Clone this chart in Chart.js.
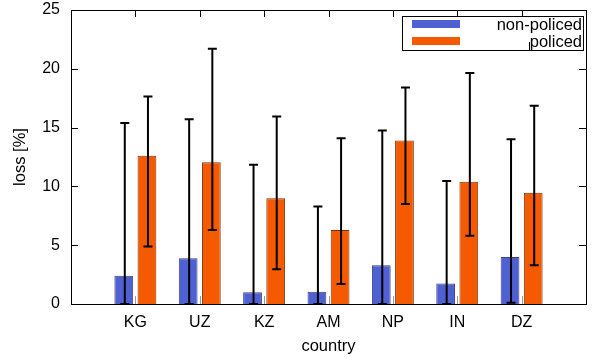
<!DOCTYPE html>
<html>
<head>
<meta charset="utf-8">
<script src="https://cdn.jsdelivr.net/npm/chart.js@4.4.0/dist/chart.umd.min.js"></script>
<style>
    html, body { margin: 0; padding: 0; background: #ffffff; }
    #wrap { width: 595px; height: 358px; position: relative; }
</style>
</head>
<body>
<div id="wrap"><canvas id="lossChart"></canvas></div>
<script>
// categories (blank slots at both ends keep the gnuplot x range 0..8)
const countries = ['', 'KG', 'UZ', 'KZ', 'AM', 'NP', 'IN', 'DZ', ''];

// mean loss [%]
const nonPoliced = [null, 2.4, 3.9, 1.0, 1.05, 3.3, 1.75, 4.0, null];
const policed = [null, 12.6, 12.05, 9.0, 6.3, 13.9, 10.4, 9.45, null];

// error bar ranges [%]
const nonPolicedLow = [null, 0, 0, 0, 0, 0, 0, 0.1, null];
const nonPolicedHigh = [null, 15.4, 15.7, 11.85, 8.3, 14.75, 10.45, 14.0, null];
const policedLow = [null, 4.9, 6.3, 2.95, 1.7, 8.5, 5.8, 3.3, null];
const policedHigh = [null, 17.65, 21.7, 15.95, 14.1, 18.4, 19.65, 16.85, null];

const yTicks = [0, 5, 10, 15, 20, 25];

const FONT = 'Liberation Sans, Arial, Helvetica, sans-serif';

document.addEventListener('DOMContentLoaded', function() {
    initializeChart();
});

// error bars with caps, drawn at each bar's x
const errorBarPlugin = {
    id: 'errorBars',
    afterDatasetsDraw(chart) {
        const ctx = chart.ctx;
        const y = chart.scales.y;
        const ranges = [[nonPolicedLow, nonPolicedHigh], [policedLow, policedHigh]];
        ctx.save();
        ctx.strokeStyle = '#000000';
        ctx.lineWidth = 2;
        ranges.forEach((r, di) => {
            const meta = chart.getDatasetMeta(di);
            meta.data.forEach((bar, i) => {
                if (r[0][i] === null) return;
                const x = bar.x + 1;
                const yLo = y.getPixelForValue(r[0][i]);
                const yHi = y.getPixelForValue(r[1][i]);
                ctx.beginPath();
                ctx.moveTo(x, yLo);
                ctx.lineTo(x, yHi);
                ctx.moveTo(x - 4.5, yLo);
                ctx.lineTo(x + 4.5, yLo);
                ctx.moveTo(x - 4.5, yHi);
                ctx.lineTo(x + 4.5, yHi);
                ctx.stroke();
            });
        });
        ctx.restore();
    }
};

// frame, inward ticks and the key box
const framePlugin = {
    id: 'frame',
    beforeDatasetsDraw(chart) {
        const ctx = chart.ctx;
        const a = chart.chartArea;
        const x = chart.scales.x;
        ctx.save();
        ctx.strokeStyle = '#999999';
        ctx.lineWidth = 1;
        for (let i = 1; i < countries.length - 1; i++) {
            const px = Math.round(x.getPixelForValue(i)) + 0.5;
            ctx.beginPath();
            ctx.moveTo(px, a.bottom);
            ctx.lineTo(px, a.bottom - 8);
            ctx.stroke();
        }
        ctx.restore();
    },
    afterDraw(chart) {
        const ctx = chart.ctx;
        const a = chart.chartArea;
        const x = chart.scales.x;
        const y = chart.scales.y;
        ctx.save();
        ctx.strokeStyle = '#000000';
        ctx.lineWidth = 1;
        ctx.strokeRect(Math.round(a.left) + 0.5, Math.round(a.top) + 0.5,
            Math.round(a.right - a.left), Math.round(a.bottom - a.top));

        ctx.beginPath();
        yTicks.forEach(v => {
            const py = Math.round(y.getPixelForValue(v)) + 0.5;
            ctx.moveTo(a.left, py);
            ctx.lineTo(a.left + 7, py);
            ctx.moveTo(a.right, py);
            ctx.lineTo(a.right - 7, py);
        });
        for (let i = 1; i < countries.length - 1; i++) {
            const px = Math.round(x.getPixelForValue(i)) + 0.5;
            ctx.moveTo(px, a.top);
            ctx.lineTo(px, a.top + 7);
        }
        ctx.stroke();

        // key
        ctx.strokeRect(402.5, 16.5, 181, 34);
        ctx.beginPath();
        ctx.moveTo(529.5, 42);
        ctx.lineTo(529.5, 50.5);
        ctx.stroke();
        chart.data.datasets.forEach((ds, i) => {
            const cy = 24 + i * 17;
            ctx.fillStyle = ds.backgroundColor;
            ctx.fillRect(412, cy - 4, 48, 8);
            ctx.fillStyle = '#000000';
            ctx.font = '16.5px ' + FONT;
            ctx.textAlign = 'right';
            ctx.textBaseline = 'middle';
            ctx.fillText(ds.label, 582, cy + 1);
        });
        ctx.restore();
    }
};

function initializeChart() {
    const ctx = document.getElementById('lossChart').getContext('2d');
    window.lossChart = new Chart(ctx, {
        type: 'bar',
        data: {
            labels: countries,
            datasets: [{
                label: 'non-policed',
                data: nonPoliced,
                backgroundColor: '#4f60d3',
                borderColor: '#3a4080',
                borderWidth: 1,
                categoryPercentage: 0.72,
                barPercentage: 0.81
            }, {
                label: 'policed',
                data: policed,
                backgroundColor: '#f55a00',
                borderColor: '#7a3510',
                borderWidth: 1,
                categoryPercentage: 0.72,
                barPercentage: 0.81
            }]
        },
        options: {
            responsive: true,
            maintainAspectRatio: false,
            animation: false,
            layout: {
                padding: { left: 0, right: 3, top: 10, bottom: 0 }
            },
            plugins: {
                legend: { display: false },
                tooltip: { enabled: false }
            },
            scales: {
                x: {
                    offset: false,
                    grid: { display: false, drawTicks: false },
                    border: { display: false },
                    ticks: {
                        color: '#000000',
                        font: { family: FONT, size: 16 },
                        padding: 9,
                        maxRotation: 0,
                        autoSkip: false
                    },
                    title: {
                        display: true,
                        text: 'country',
                        color: '#000000',
                        font: { family: FONT, size: 16.5 },
                        padding: { top: 0, bottom: 2 }
                    },
                    afterFit: function(scale) { scale.height = 54; }
                },
                y: {
                    min: 0,
                    max: 25,
                    grid: { display: false, drawTicks: false },
                    border: { display: false },
                    afterBuildTicks: function(scale) {
                        scale.ticks = yTicks.map(v => ({ value: v }));
                    },
                    ticks: {
                        color: '#000000',
                        font: { family: FONT, size: 16 },
                        padding: 11
                    },
                    title: {
                        display: true,
                        text: 'loss [%]',
                        color: '#000000',
                        font: { family: FONT, size: 16.5 },
                        padding: { top: 11, bottom: 0 }
                    },
                    afterFit: function(scale) {
                        scale.width = 71;
                        scale.paddingTop = 0;
                        scale.paddingBottom = 0;
                    }
                }
            }
        },
        plugins: [errorBarPlugin, framePlugin]
    });
}
</script>
</body>
</html>
